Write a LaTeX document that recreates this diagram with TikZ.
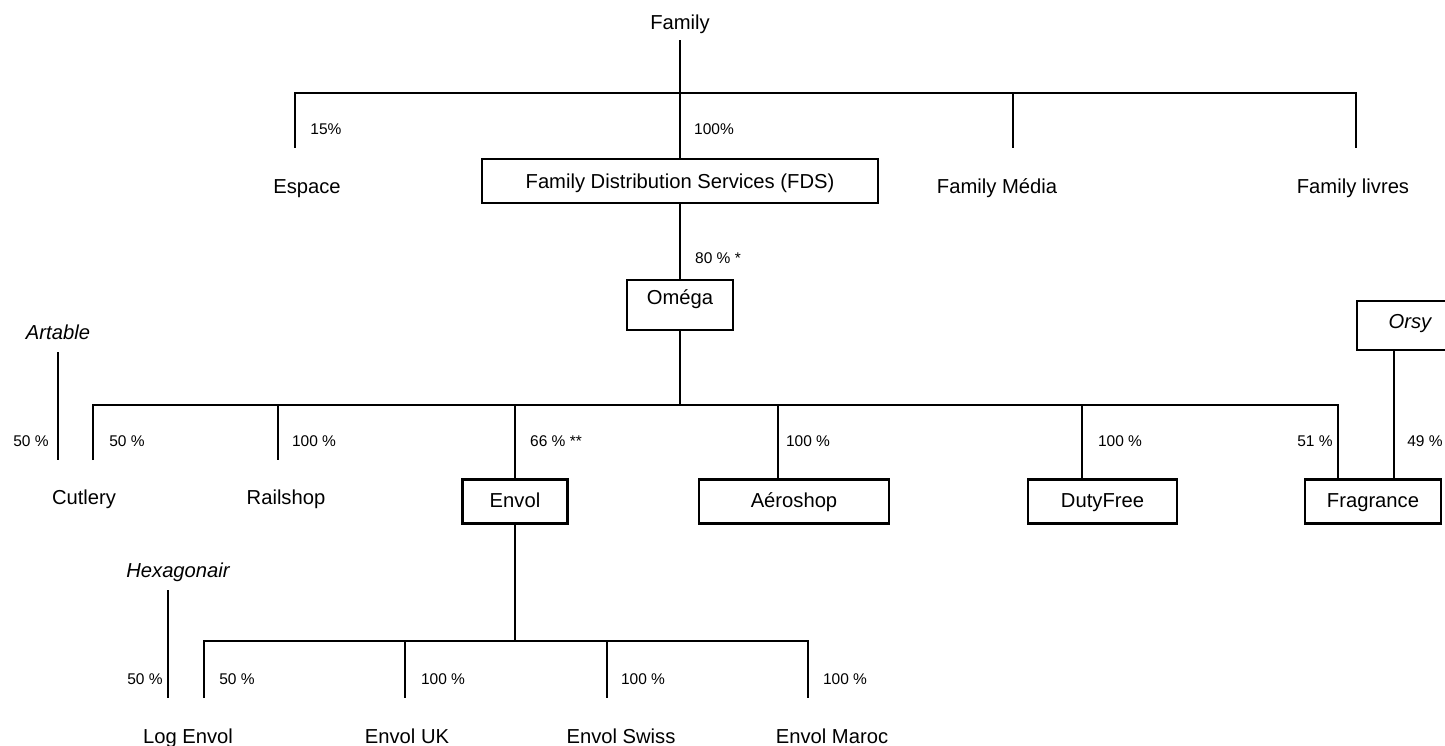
\documentclass[tikz,border=0pt]{standalone}
\usepackage{fontspec}
\setmainfont{Liberation Sans}
\begin{document}
\begin{tikzpicture}[
            x = 1pt, y = -1pt,
            txt/.style = {font = \fontsize{20.2}{23}\selectfont, inner sep = 0pt, text height = 14.5pt, text depth = 0pt},
            ital/.style = {txt, font = \fontsize{20.2}{23}\selectfont\itshape},
            firm/.style = {txt, draw, line width = 2.6pt, minimum height = 44pt},
            pct/.style = {font = \fontsize{15.5}{18}\selectfont, inner sep = 0pt, text height = 11pt, text depth = 0pt},
            ln/.style = {draw, line width = 1.3pt},
        ]
        \useasboundingbox (0,0) rectangle (1445,746);

        \node (FAM) [txt] at (680,22) {Family};
        \node (ESP) [txt] at (307,186) {Espace};
        \node (FDS) [firm, minimum width = 396pt] at (680,181) {Family Distribution Services (FDS)};
        \node (MED) [txt] at (997,186) {Family Média};
        \node (LIV) [txt] at (1353,186) {Family livres};

        \node (OMG) [firm, minimum width = 106pt, minimum height = 50pt, text depth = 16pt] at (680,305) {Oméga};
        \node (ORS) [firm, ital, minimum width = 106pt, minimum height = 49pt, text depth = 9pt] at (1410,325.5) {Orsy};
        \node (ART) [ital] at (58,332) {Artable};

        \node (CUT) [txt] at (84,497) {Cutlery};
        \node (RAIL) [txt] at (286,497) {Railshop};
        \node (ENV) [firm, minimum width = 105pt, text depth = 3pt] at (515,501.5) {Envol};
        \node (AER) [firm, minimum width = 190pt, text depth = 3pt] at (794,501.5) {Aéroshop};
        \node (DUT) [firm, minimum width = 149pt, text depth = 3pt] at (1102.5,501.5) {DutyFree};
        \node (FRG) [firm, minimum width = 136pt, text depth = 3pt] at (1373,501.5) {Fragrance};

        \node (HEX) [ital] at (178,570) {Hexagonair};
        \node (LOG) [txt] at (188,736) {Log Envol};
        \node (UK) [txt] at (407,736) {Envol UK};
        \node (SWI) [txt] at (621,736) {Envol Swiss};
        \node (MAR) [txt] at (832,736) {Envol Maroc};

        % percentages
        \node (pESP) [pct] at (326,129) {15\%};
        \node (pFDS) [pct] at (714,129) {100\%};
        \node (pOMG) [pct] at (718,258) {80 \% *};
        \node (pART) [pct] at (31,441) {50 \%};
        \node (pCUT) [pct] at (127,441) {50 \%};
        \node (pRAIL) [pct] at (314,441) {100 \%};
        \node (pENV) [pct] at (556,441) {66 \% **};
        \node (pAER) [pct] at (808,441) {100 \%};
        \node (pDUT) [pct] at (1120,441) {100 \%};
        \node (pFRG) [pct] at (1315,441) {51 \%};
        \node (pORS) [pct] at (1425,441) {49 \%};
        \node (pHEX) [pct] at (145,679) {50 \%};
        \node (pLOG) [pct] at (237,679) {50 \%};
        \node (pUK) [pct] at (443,679) {100 \%};
        \node (pSWI) [pct] at (643,679) {100 \%};
        \node (pMAR) [pct] at (845,679) {100 \%};

        % line ends
        \coordinate (TOP) at (680,93);
        \coordinate (ESPt) at (295,148);
        \coordinate (MEDt) at (1013,148);
        \coordinate (LIVt) at (1356,148);

        \coordinate (MID) at (680,405);
        \coordinate (ARTt) at (58,460);
        \coordinate (CUTt) at (93,460);
        \coordinate (RAILt) at (278,460);
        \coordinate (AERt) at (778,479);
        \coordinate (DUTt) at (1082,479);
        \coordinate (FRGt) at (1338,479);
        \coordinate (FRGo) at (1394,479);

        \coordinate (LOW) at (515,641);
        \coordinate (HEXt) at (168,698);
        \coordinate (LOGt) at (204,698);
        \coordinate (UKt) at (405,698);
        \coordinate (SWIt) at (607,698);
        \coordinate (MARt) at (808,698);

        \path[ln, shorten <= 11pt] (FAM) -- (FDS);
        \path[ln] (ESPt) |- (TOP) -| (LIVt);
        \path[ln] (TOP -| MEDt) -- (MEDt);

        \path[ln] (FDS) -- (OMG);
        \path[ln] (OMG) -- (MID);
        \path[ln] (CUTt) |- (MID) -| (FRGt);
        \path[ln] (MID -| RAILt) -- (RAILt);
        \path[ln] (MID -| ENV) -- (ENV);
        \path[ln] (MID -| AERt) -- (AERt);
        \path[ln] (MID -| DUTt) -- (DUTt);
        \path[ln] (ORS.south -| FRGo) -- (FRGo);
        \path[ln, shorten <= 13pt] (ART) -- (ARTt);

        \path[ln] (ENV) -- (LOW);
        \path[ln] (LOGt) |- (LOW) -| (MARt);
        \path[ln] (LOW -| UKt) -- (UKt);
        \path[ln] (LOW -| SWIt) -- (SWIt);
        \path[ln, shorten <= 13pt] (HEX.south -| HEXt) -- (HEXt);
    \end{tikzpicture}
\end{document}
